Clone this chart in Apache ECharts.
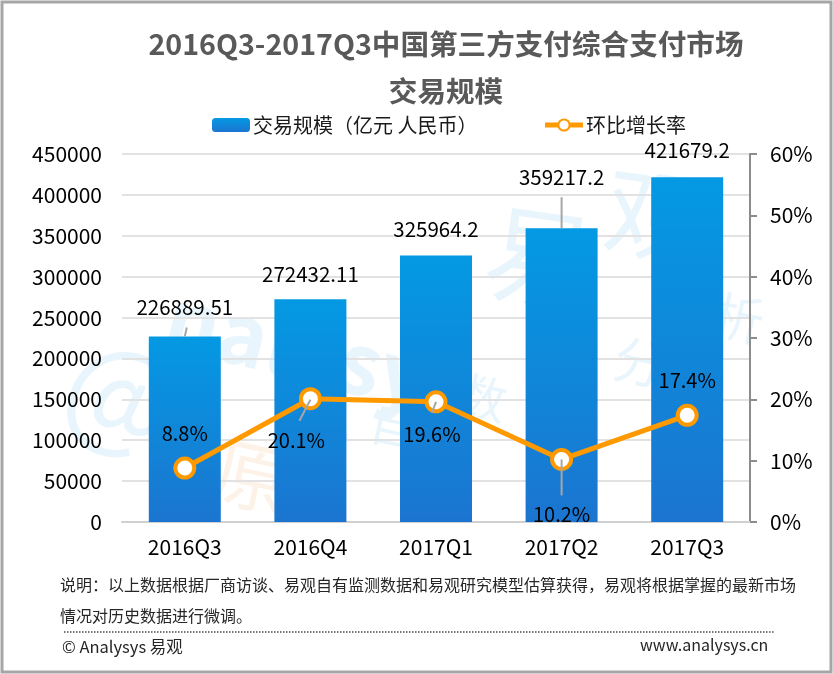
<!DOCTYPE html>
<html>
<head>
<meta charset="utf-8">
<script src="https://cdn.jsdelivr.net/npm/echarts@6/dist/echarts.min.js"></script>
<style>
html,body{margin:0;padding:0;background:#fff;}
#main{width:833px;height:674px;}
</style>
</head>
<body>
<div id="main"></div>
<script>
var categories=['2016Q3','2016Q4','2017Q1','2017Q2','2017Q3'];
var volume=[226889.51,272432.11,325964.2,359217.2,421679.2];
var volumeLabels=['226889.51','272432.11','325964.2','359217.2','421679.2'];
var growth=[8.8,20.1,19.6,10.2,17.4];

// label offsets and short leader lines, px from the mark
var volumeLabelDy=[-14,-10,-11,-36,-12];
var growthLabelDy=[-35,42,33,55,-35];
var growthLabelDx=[0,-14,-4,0,0];
var volumeLeaders=[[0,0,2,-9],null,null,[0,0,0,-31],null];
var growthLeaders=[null,[0,1,-11,22],[0,0,-4,11],[0,0,0,36],null];

var font='"Noto Sans CJK SC","Noto Sans",sans-serif';
var myChart=echarts.init(document.getElementById('main'),null,{renderer:'canvas'});

function wm(text,x,y,size,rot,color,weight){
	return {type:'text',x:x,y:y,rotation:rot*Math.PI/180,z:-1,silent:true,
		style:{text:text,font:(weight||'normal')+' '+size+'px '+font,fill:color,align:'center',verticalAlign:'middle'}};
}

function leaderSeries(values,leaders,axisIndex){
	return {
		type:'custom',
		yAxisIndex:axisIndex,
		z:5,
		silent:true,
		data:values.map(function(v,i){return [i,v];}),
		renderItem:function(params,api){
			var l=leaders[params.dataIndex];
			if(!l) return null;
			var p=api.coord([api.value(0),api.value(1)]);
			return {type:'line',
				shape:{x1:p[0]+l[0],y1:p[1]+l[1],x2:p[0]+l[2],y2:p[1]+l[3]},
				style:{stroke:'#a6a6a6',lineWidth:2}};
		}
	};
}

var option={
	backgroundColor:'#fff',
	animation:false,
	title:{
		text:'2016Q3-2017Q3中国第三方支付综合支付市场\n交易规模',
		left:441,
		top:16,
		textAlign:'center',
		textStyle:{color:'#595959',fontFamily:font,fontWeight:'bold',fontSize:28.6,lineHeight:47}
	},
	legend:{
		top:110,
		left:207,
		itemGap:65,
		itemWidth:38,
		itemHeight:14,
		textStyle:{color:'#1a1a1a',fontFamily:font,fontSize:20,padding:[0,0,0,-2]},
		data:['交易规模（亿元 人民币）',{name:'环比增长率',lineStyle:{width:5,color:'#ff9900'}}]
	},
	grid:{left:122,right:83,top:154,bottom:152},
	xAxis:{
		type:'category',
		data:categories,
		axisLine:{lineStyle:{color:'#d0d0d0',width:2}},
		axisTick:{show:false},
		axisLabel:{color:'#000',fontFamily:font,fontSize:21,margin:15}
	},
	yAxis:[{
		type:'value',min:0,max:450000,interval:50000,
		axisLine:{show:false},
		axisTick:{show:false},
		axisLabel:{color:'#000',fontFamily:font,fontSize:21,margin:20,padding:[0,0,3,0],formatter:function(v){return String(v);}},
		splitLine:{lineStyle:{color:'#e2e2e2',width:2}}
	},{
		type:'value',min:0,max:60,interval:10,
		axisLine:{show:true,lineStyle:{color:'#8c8c8c',width:2}},
		axisTick:{show:true,length:7,lineStyle:{color:'#8c8c8c',width:2}},
		axisLabel:{color:'#000',fontFamily:font,fontSize:21,margin:20,padding:[0,0,3,0],formatter:'{value}%'},
		splitLine:{show:false}
	}],
	graphic:[
		{type:'rect',z:100,silent:true,shape:{x:2,y:2,width:829,height:670},style:{fill:'none',stroke:'#a6a6a6',lineWidth:3}},
		wm('@',122,392,120,-14,'#e9f5fc'),
		wm('nalysys',318,352,84,-14,'#e9f5fc','bold'),
		wm('易',540,258,110,-8,'#e9f5fc'),
		wm('观',655,215,100,-8,'#e9f5fc'),
		wm('原',252,476,76,-12,'#fdf2e7'),
		wm('创',322,452,52,-12,'#e9f5fc'),
		wm('自',395,425,50,-12,'#e9f5fc'),
		wm('数',482,398,50,-12,'#e9f5fc'),
		wm('分',640,362,52,-12,'#e9f5fc'),
		wm('析',738,318,52,-12,'#e9f5fc'),
		{type:'text',left:60,top:577,silent:true,style:{text:'说明：以上数据根据厂商访谈、易观自有监测数据和易观研究模型估算获得，易观将根据掌握的最新市场',font:'16px '+font,fill:'#262626'}},
		{type:'text',left:60,top:608,silent:true,style:{text:'情况对历史数据进行微调。',font:'16px '+font,fill:'#262626'}},
		{type:'line',silent:true,shape:{x1:64,y1:632,x2:775,y2:632},style:{stroke:'#777',lineWidth:2,lineDash:[1.5,1.5]}},
		{type:'text',left:62,top:638,silent:true,style:{text:'© Analysys 易观',font:'16.5px '+font,fill:'#262626'}},
		{type:'text',left:640,top:637,silent:true,style:{text:'www.analysys.cn',font:'16px '+font,fill:'#262626'}}
	],
	series:[{
		name:'交易规模（亿元 人民币）',
		type:'bar',
		barWidth:72,
		data:volume,
		itemStyle:{color:new echarts.graphic.LinearGradient(0,0,0,1,[{offset:0,color:'#0499e3'},{offset:1,color:'#1b75d0'}])},
		label:{show:true,position:'top',color:'#000',fontFamily:font,fontSize:20.5,
			formatter:function(p){return volumeLabels[p.dataIndex];}},
		labelLayout:function(p){return {dy:volumeLabelDy[p.dataIndex]};}
	},{
		name:'环比增长率',
		type:'line',
		yAxisIndex:1,
		data:growth,
		symbol:'circle',
		symbolSize:19,
		showAllSymbol:true,
		lineStyle:{color:'#ff9900',width:5},
		itemStyle:{color:'#fff',borderColor:'#ff9900',borderWidth:4},
		label:{show:true,position:'inside',color:'#000',fontFamily:font,fontSize:20,
			formatter:'{c}%'},
		labelLayout:function(p){return {dx:growthLabelDx[p.dataIndex],dy:growthLabelDy[p.dataIndex]};}
	},
	leaderSeries(volume,volumeLeaders,0),
	leaderSeries(growth,growthLeaders,1)]
};
myChart.setOption(option);
</script>
</body>
</html>
